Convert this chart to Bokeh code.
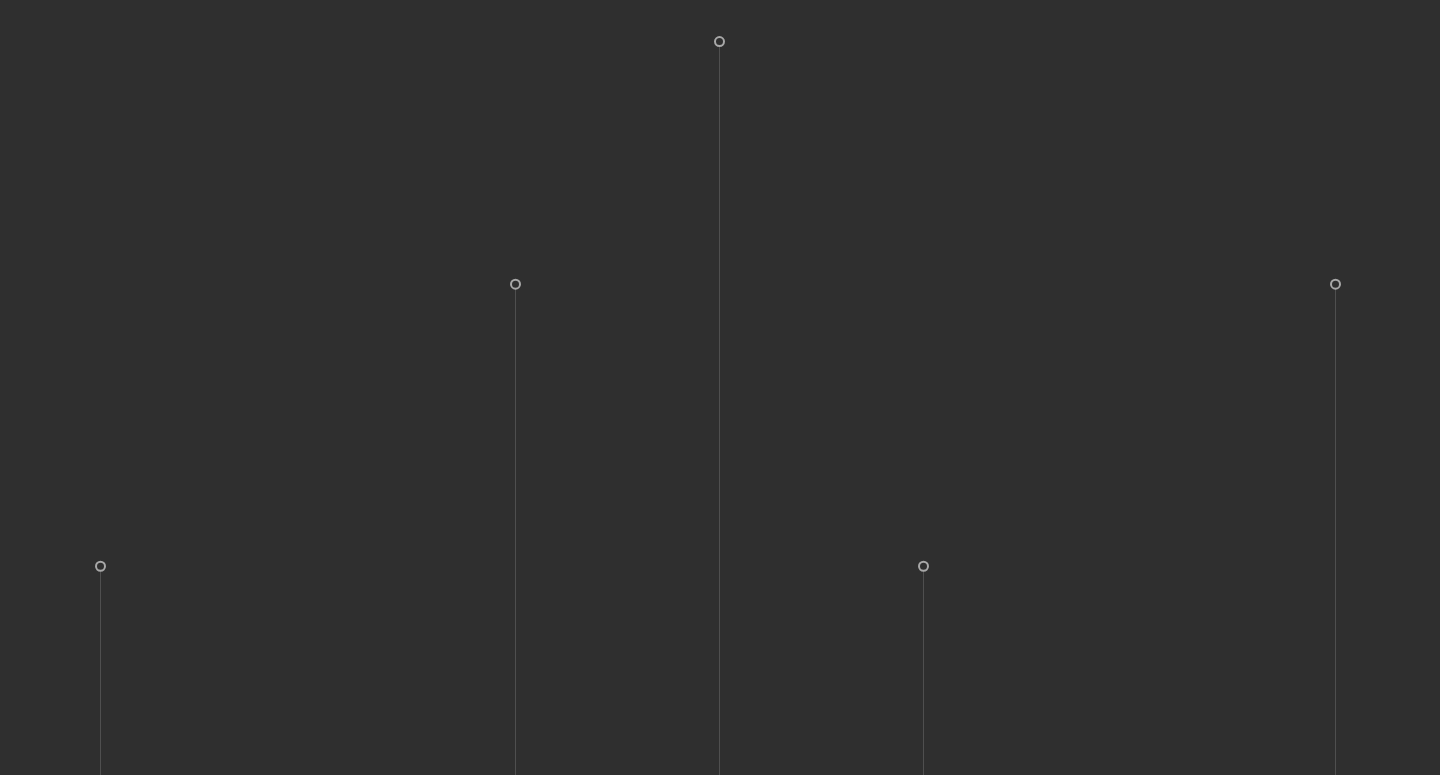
from bokeh.plotting import figure
from bokeh.models import Range1d
from bokeh.embed import file_html
from bokeh.resources import INLINE

# data
positions = [100, 515, 719, 923, 1335]
values = [27.0, 63.4, 94.7, 27.0, 63.4]
baseline = [0, 0, 0, 0, 0]

BG = "#2f2f2f"

p = figure(width=1444, height=779, output_backend="svg", toolbar_location=None,
           x_range=Range1d(-2, 1442), y_range=Range1d(-0.258, 100.258),
           min_border=0, background_fill_color=BG, border_fill_color=BG)
p.axis.visible = False
p.grid.visible = False
p.outline_line_color = None
p.styles = {"position": "fixed", "top": "-2px", "left": "-2px"}

p.segment(x0=positions, y0=baseline, x1=positions, y1=values,
          line_color="#4f4f4f", line_width=1)
p.scatter(x=positions, y=values, size=9, marker="circle",
          fill_color=BG, line_color="#a8a8a8", line_width=2)

open("out.html", "w").write(file_html(p, INLINE))
